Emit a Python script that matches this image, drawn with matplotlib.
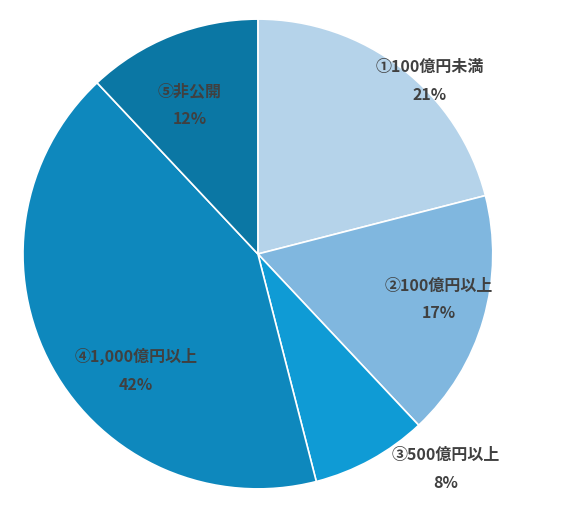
import matplotlib
matplotlib.use('Agg')
import matplotlib.pyplot as plt

plt.rcParams['font.family'] = ['Noto Sans CJK JP', 'DejaVu Sans']

labels = ['①100億円未満', '②100億円以上', '③500億円以上', '④1,000億円以上', '⑤非公開']
shares = [21, 17, 8, 42, 12]
colors = ['#b5d3ea', '#80b7df', '#0f9bd5', '#0e88bd', '#0b77a4']
# label anchor positions in units of the radius
label_pos = [(0.73, 0.74), (0.77, -0.19), (0.80, -0.91), (-0.52, -0.49), (-0.29, 0.64)]

fig = plt.figure(figsize=(5.75, 5.1), dpi=100)
ax = fig.add_axes([0.040, 0.039, 0.817, 0.922])
ax.pie(shares, colors=colors, startangle=90, counterclock=False,
       wedgeprops=dict(edgecolor='white', linewidth=1.2))
for lab, s, (x, y) in zip(labels, shares, label_pos):
    ax.text(x, y, f'{lab}\n{s}%', ha='center', va='center', fontsize=11.5,
            fontweight='bold', color='#404040', linespacing=1.9)
ax.set_xlim(-1, 1)
ax.set_ylim(-1, 1)
ax.set_aspect('equal')
fig.savefig('out.png')
